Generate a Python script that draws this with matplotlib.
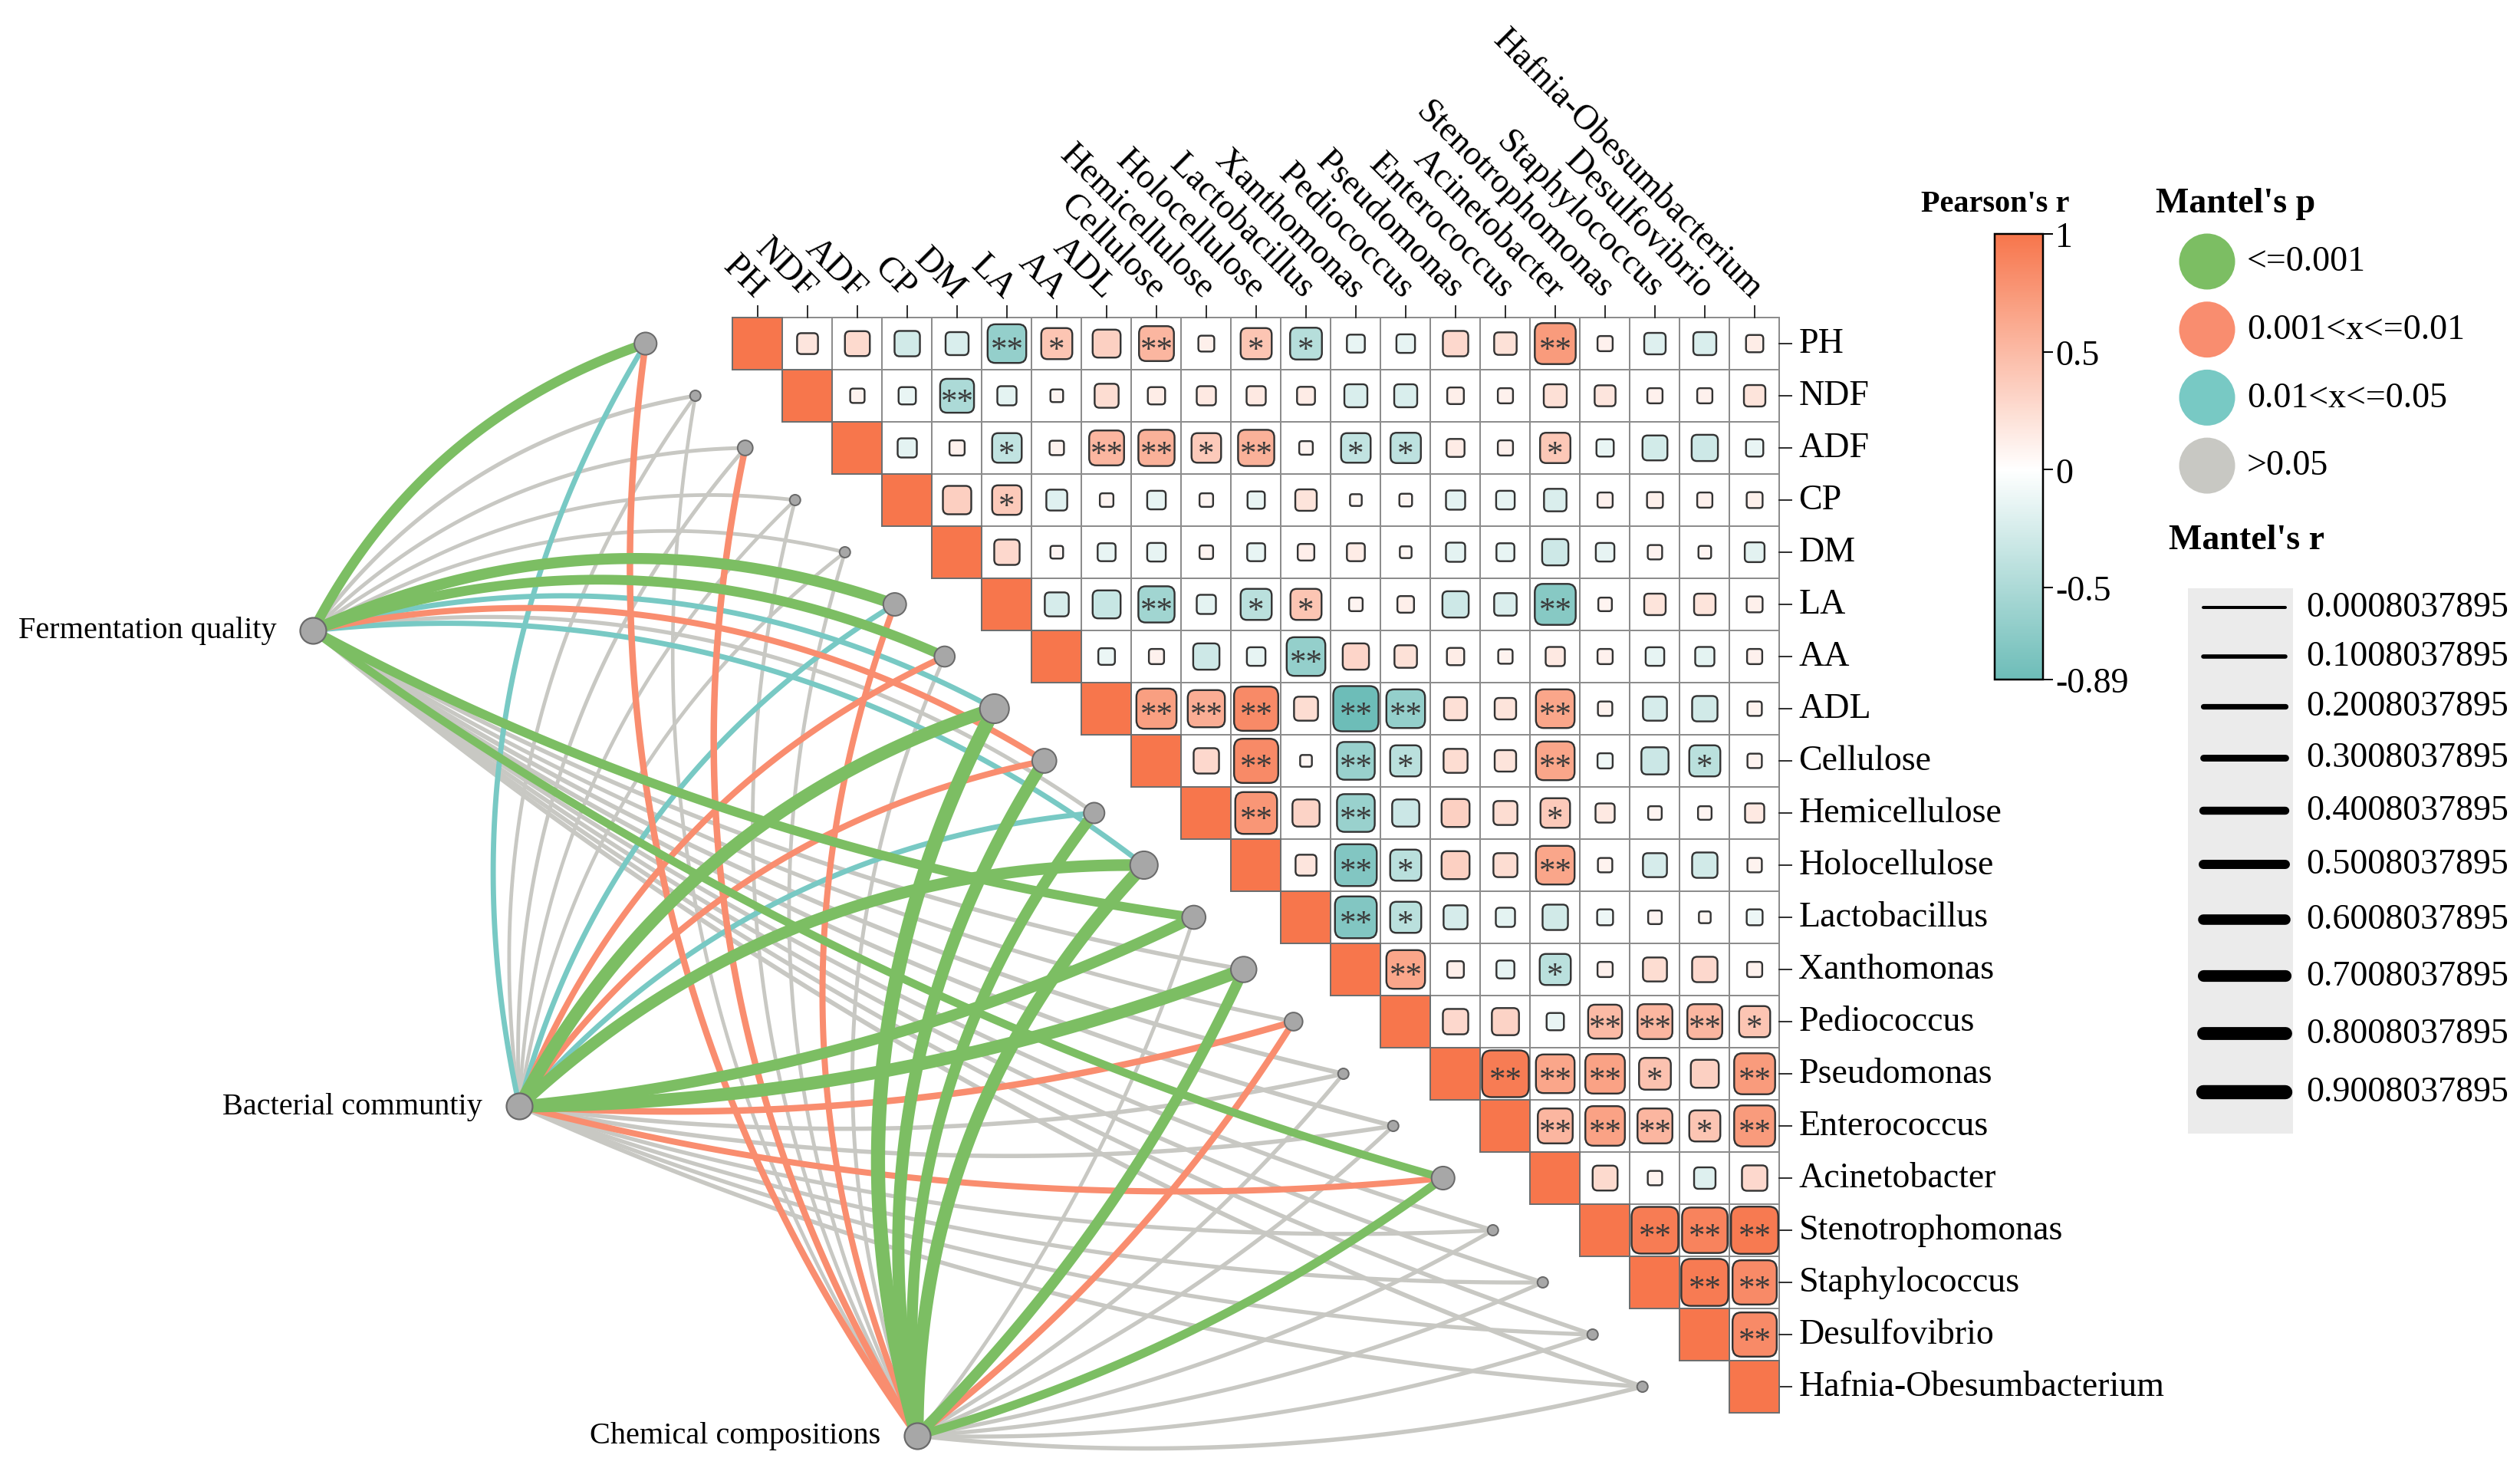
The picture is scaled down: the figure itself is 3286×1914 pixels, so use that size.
import numpy as np
import matplotlib
matplotlib.use("Agg")
import matplotlib.pyplot as plt
from matplotlib.patches import FancyBboxPatch, Rectangle
from matplotlib.colors import LinearSegmentedColormap, Normalize
from matplotlib.colorbar import ColorbarBase

plt.rcParams["font.family"] = ["Liberation Serif", "DejaVu Serif"]
plt.rcParams["axes.unicode_minus"] = False

variables = ["PH", "NDF", "ADF", "CP", "DM", "LA", "AA", "ADL", "Cellulose",
             "Hemicellulose", "Holocellulose", "Lactobacillus", "Xanthomonas",
             "Pediococcus", "Pseudomonas", "Enterococcus", "Acinetobacter",
             "Stenotrophomonas", "Staphylococcus", "Desulfovibrio",
             "Hafnia-Obesumbacterium"]

# Pearson's r, upper triangle: each row holds the cells right of the diagonal
pearson_r = [
    [0.19, 0.27, -0.28, -0.23, -0.65, 0.42, 0.34, 0.53, 0.11, 0.42, -0.44, -0.14, -0.15, 0.28, 0.22, 0.73, 0.10, -0.20, -0.23, 0.13],
    [0.09, -0.13, -0.50, -0.16, 0.07, 0.25, 0.13, 0.16, 0.16, 0.14, -0.23, -0.23, 0.12, 0.10, 0.23, 0.19, 0.10, 0.10, 0.20],
    [-0.16, 0.10, -0.38, 0.09, 0.53, 0.57, 0.38, 0.57, 0.08, -0.38, -0.40, 0.14, 0.10, 0.40, -0.13, -0.27, -0.30, -0.13],
    [0.35, 0.38, -0.19, 0.08, -0.15, 0.08, -0.13, 0.20, 0.06, 0.07, -0.16, -0.15, -0.22, 0.10, 0.11, 0.10, 0.11],
    [0.28, 0.07, -0.14, -0.15, 0.08, -0.14, 0.12, 0.14, 0.06, -0.16, -0.14, -0.30, -0.15, 0.09, 0.07, -0.17],
    [-0.25, -0.34, -0.57, -0.16, -0.42, 0.42, 0.08, 0.12, -0.30, -0.22, -0.73, 0.08, 0.20, 0.20, 0.11],
    [-0.12, 0.10, -0.30, -0.15, -0.65, 0.30, 0.22, 0.13, 0.09, 0.16, 0.10, -0.15, -0.16, 0.10],
    [0.70, 0.60, 0.85, 0.25, -0.89, -0.65, 0.23, 0.20, 0.65, 0.09, -0.25, -0.28, 0.09],
    [0.28, 0.85, 0.06, -0.62, -0.42, 0.25, 0.20, 0.65, -0.10, -0.32, -0.42, 0.09],
    [0.76, 0.32, -0.62, -0.32, 0.34, 0.25, 0.38, 0.16, 0.08, 0.08, 0.16],
    [0.19, -0.76, -0.42, 0.34, 0.25, 0.65, 0.09, -0.25, -0.28, 0.09],
    [-0.76, -0.42, -0.25, -0.16, -0.28, -0.11, 0.08, 0.06, -0.11],
    [0.65, 0.12, -0.14, -0.42, 0.10, 0.25, 0.28, 0.10],
    [0.28, 0.32, -0.13, 0.50, 0.53, 0.53, 0.42],
    [0.95, 0.65, 0.68, 0.44, 0.34, 0.73],
    [0.53, 0.68, 0.53, 0.42, 0.73],
    [0.27, 0.09, -0.20, 0.28],
    [0.95, 0.90, 0.97],
    [0.96, 0.85],
    [0.85],
    [],
]
# number of stars in each of those cells
stars = [
    "00002102011000020000", "0020000000000000000", "001022120110010000",
    "01000000000000000", "0000000000000000", "002011000020000",
    "00002000000000", "2220220020000", "020210020010", "20200010000",
    "0210020000", "210000000", "20010000", "0002221", "222102", "22212",
    "0000", "222", "22", "2", "",
]

groups = ["Fermentation quality", "Bacterial communtiy", "Chemical compositions"]
# Mantel's p class per variable: 0 <=0.001, 1 0.001-0.01, 2 0.01-0.05, 3 >0.05
fq_p = [0, 3, 3, 3, 3, 0, 0, 2, 1, 3, 2, 0, 3, 3, 3, 3, 0, 3, 3, 3, 3]
bc_p = [2, 3, 3, 3, 3, 2, 1, 0, 1, 2, 0, 0, 0, 1, 3, 3, 1, 3, 3, 3, 3]
cc_p = [1, 3, 1, 3, 3, 1, 3, 0, 0, 0, 0, 3, 0, 1, 3, 3, 0, 3, 3, 3, 3]
fq_r = [0.55, 0.08, 0.06, 0.05, 0.05, 0.65, 0.55, 0.18, 0.25, 0.08, 0.18, 0.50, 0.10, 0.08, 0.12, 0.12, 0.40, 0.10, 0.10, 0.10, 0.12]
bc_r = [0.18, 0.05, 0.06, 0.04, 0.04, 0.18, 0.25, 0.80, 0.25, 0.18, 0.70, 0.65, 0.80, 0.28, 0.10, 0.10, 0.25, 0.08, 0.08, 0.08, 0.10]
cc_r = [0.28, 0.04, 0.28, 0.05, 0.05, 0.25, 0.06, 0.90, 0.75, 0.65, 0.80, 0.05, 0.62, 0.28, 0.08, 0.08, 0.45, 0.08, 0.08, 0.08, 0.10]

p_labels = ["<=0.001", "0.001<x<=0.01", "0.01<x<=0.05", ">0.05"]
r_breaks = [0.0008037895, 0.1008037895, 0.2008037895, 0.3008037895, 0.4008037895,
            0.5008037895, 0.6008037895, 0.7008037895, 0.8008037895, 0.9008037895]
cbar_ticks = [1, 0.5, 0, -0.5, -0.89]

p_colors = ["#7CBE63", "#F98D6F", "#78C9C4", "#C8C8C3"]
cmap = LinearSegmentedColormap.from_list(
    "pr", [(0, "#6DBDB8"), (0.89 / 1.89, "#FFFFFF"), (1, "#F7764C")])
norm = Normalize(-0.89, 1)

W, H = 3287, 1915
PT = 0.72                              # points per pixel at dpi 100
X0, Y0, CW, CH = 988, 449, 65, 68      # centre of the first cell, cell size (px)


def link_width(r):
    return (4 + 16 * r) * PT


fig = plt.figure(figsize=(W / 100, H / 100), dpi=100)
ax = fig.add_axes([0, 0, 1, 1])
ax.set_xlim(-X0 / CW, (W - X0) / CW)
ax.set_ylim((H - Y0) / CH, -Y0 / CH)
ax.axis("off")

n = len(variables)

# correlation matrix
for i in range(n):
    for j in range(i, n):
        ax.add_patch(Rectangle((j - .5, i - .5), 1, 1, fc="white", ec="#8C8C8C",
                               lw=2 * PT, zorder=1))
for i in range(n):
    ax.add_patch(Rectangle((i - .5, i - .5), 1, 1, fc=cmap(norm(1.0)), ec="#6E6E6E",
                           lw=2 * PT, zorder=3))
    for k, r in enumerate(pearson_r[i]):
        j = i + 1 + k
        side = 62.5 * np.sqrt(abs(r))
        w, h = side / CW, side / CH
        ax.add_patch(FancyBboxPatch((j - w / 2, i - h / 2), w, h,
                                    boxstyle=f"round,pad=0,rounding_size={0.2 * w}",
                                    fc=cmap(norm(r)), ec="#333333", lw=2.4 * PT, zorder=2))
        if stars[i][k] != "0":
            ax.text(j, i + 0.13, "*" * int(stars[i][k]), ha="center", va="center",
                    fontsize=31, color="#3A3A3A", zorder=4)

for j in range(n):
    ax.plot([j, j], [-0.5, -0.5 - 15 / CH], color="#333333", lw=2 * PT, zorder=2)
    ax.text(j + 0.05, -0.5 - 32 / CH, variables[j], rotation=-45, rotation_mode="anchor",
            ha="right", va="center", fontsize=33)
for i in range(n):
    ax.plot([n - 0.5, n - 0.5 + 16 / CW], [i, i], color="#333333", lw=2 * PT, zorder=2)
    ax.text(n - 0.5 + 25 / CW, i, variables[i], ha="left", va="center", fontsize=33)

# Mantel links
src_x = [-8.92, -4.78, 3.2]
src_y = [5.5, 14.62, 20.94]
tgt_x = np.arange(n) - 2.25
tgt_y = np.arange(n, dtype=float)


def curve(x0, y0, x1, y1, bend):
    p0 = np.array([x0 * CW, y0 * CH])
    p1 = np.array([x1 * CW, y1 * CH])
    d = p1 - p0
    L = np.hypot(*d)
    nrm = np.array([d[1], -d[0]]) / L
    c = (p0 + p1) / 2 + bend * L * nrm
    t = np.linspace(0, 1, 80)[:, None]
    pts = (1 - t) ** 2 * p0 + 2 * t * (1 - t) * c + t ** 2 * p1
    return pts[:, 0] / CW, pts[:, 1] / CH


links = []
for g, (pc, rv) in enumerate([(fq_p, fq_r), (bc_p, bc_r), (cc_p, cc_r)]):
    for i in range(n):
        links.append((pc[i] != 3, rv[i], pc[i], g, i))
links.sort(key=lambda a: (a[0], a[1]))
for _, r, p, g, i in links:
    bend = 0.2 if i <= n // 2 else -0.09
    xs, ys = curve(src_x[g], src_y[g], tgt_x[i], tgt_y[i], bend)
    ax.plot(xs, ys, color=p_colors[p], lw=link_width(r), solid_capstyle="butt", zorder=1)

sig_sum = np.zeros(n)
for pc, rv in [(fq_p, fq_r), (bc_p, bc_r), (cc_p, cc_r)]:
    sig_sum += np.array([r if p != 3 else 0 for p, r in zip(pc, rv)])
node_rad = 7 + 7.5 * sig_sum ** 0.75
ax.scatter(tgt_x, tgt_y, s=(2 * node_rad * PT) ** 2, c="#A7A7A7", edgecolors="#6A6A6A",
           linewidths=2 * PT, zorder=5)
ax.scatter(src_x, src_y, s=(34 * PT) ** 2, c="#A7A7A7", edgecolors="#6A6A6A",
           linewidths=2.2 * PT, zorder=5)
for g in range(3):
    ax.text(src_x[g] - 48 / CW, src_y[g], groups[g], ha="right", va="center", fontsize=29)

# legends (pixel coordinates)
lax = fig.add_axes([0, 0, 1, 1])
lax.set_xlim(0, W)
lax.set_ylim(H, 0)
lax.axis("off")

lax.text(2602, 266, "Pearson's r", ha="center", va="center", fontsize=29, fontweight="bold")
cax = fig.add_axes([2601 / W, 1 - 887 / H, 63 / W, 581 / H])
cb = ColorbarBase(cax, cmap=cmap, norm=norm, orientation="vertical", ticks=cbar_ticks)
cb.ax.set_yticklabels([f"{t:g}" for t in cbar_ticks])
cb.outline.set_linewidth(2.5 * PT)
cax.tick_params(length=13 * PT, width=2 * PT, labelsize=33, pad=2)

lax.text(2811, 266, "Mantel's p", ha="left", va="center", fontsize=33, fontweight="bold")
for k, lab in enumerate(p_labels):
    y = 342 + 88.7 * k
    lax.scatter([2878], [y], s=(73 * PT) ** 2, c=p_colors[k], edgecolors="none")
    lax.text(2930, y, lab, ha="left", va="center", fontsize=33)

lax.text(2828, 705, "Mantel's r", ha="left", va="center", fontsize=33, fontweight="bold")
lax.add_patch(Rectangle((2853, 768), 137, 711, fc="#EBEBEB", ec="none"))
y = 793
for k, rb in enumerate(r_breaks):
    lax.plot([2873, 2980], [y, y], color="black", lw=link_width(rb), solid_capstyle="round")
    lax.text(3007, y, f"{rb:.10f}", ha="left", va="center", fontsize=33)
    if k + 1 < len(r_breaks):
        y += 59 + (link_width(rb) + link_width(r_breaks[k + 1])) / 2 / PT

fig.savefig("out.png", dpi=100)
